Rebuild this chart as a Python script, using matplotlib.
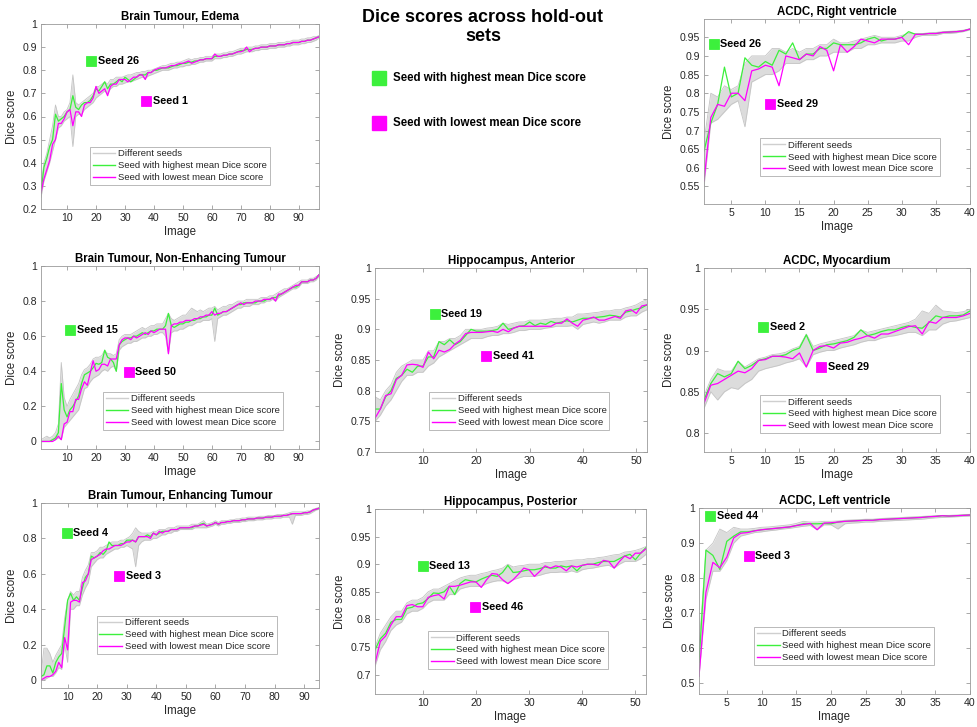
import numpy as np
import matplotlib
matplotlib.use("Agg")
import matplotlib.pyplot as plt
from matplotlib.lines import Line2D
from matplotlib.ticker import FuncFormatter

plt.rcParams['font.family'] = ['Liberation Sans', 'DejaVu Sans']

GREEN = '#3cf03c'
MAGENTA = '#ff00ff'
GRAY = '#c4c4c4'

# ---------------- data ----------------
# Brain Tumour, Edema (97 images)
edema_best = [.27, .38, .42, .47, .50, .61, .58, .59, .60, .62,
              .63, .69, .64, .63, .65, .66, .66, .67, .69, .72,
              .71, .73, .75, .72, .74, .74, .75, .76, .75, .77,
              .76, .75, .76, .77, .78, .78, .78, .79, .79, .80,
              .80, .805, .81, .81, .81, .815, .82, .82, .825, .83,
              .83, .835, .835, .84, .84, .845, .845, .85, .85, .85,
              .86, .86, .86, .865, .865, .87, .87, .875, .88, .885,
              .885, .89, .89, .89, .895, .895, .90, .90, .90, .905,
              .905, .905, .91, .91, .91, .915, .915, .92, .92, .92,
              .925, .925, .93, .93, .935, .94, .945]
edema_worst = [.27, .33, .37, .41, .48, .50, .57, .57, .59, .62,
               .63, .56, .62, .62, .60, .65, .66, .66, .68, .73,
               .70, .71, .72, .69, .73, .74, .74, .76, .76, .76,
               .75, .76, .77, .77, .78, .78, .76, .79, .79, .80,
               .805, .81, .81, .81, .815, .82, .82, .825, .83, .83,
               .835, .84, .83, .835, .84, .845, .845, .85, .85, .85,
               .87, .86, .86, .865, .865, .87, .87, .875, .88, .88,
               .885, .90, .88, .89, .895, .895, .90, .90, .90, .905,
               .905, .905, .91, .91, .91, .915, .915, .92, .92, .92,
               .925, .925, .93, .93, .935, .94, .945]
edema_lo = [.25, .32, .36, .40, .45, .50, .55, .56, .58, .59,
            .60, .47, .60, .61, .61, .63, .64, .65, .66, .68,
            .69, .70, .71, .70, .72, .73, .73, .74, .74, .745,
            .75, .75, .755, .76, .765, .77, .765, .775, .78, .785,
            .79, .795, .80, .80, .80, .805, .81, .81, .815, .815,
            .82, .82, .825, .825, .83, .835, .835, .84, .84, .84,
            .85, .85, .85, .855, .855, .86, .86, .865, .87, .87,
            .875, .88, .88, .88, .885, .885, .89, .89, .89, .895,
            .895, .895, .90, .90, .90, .905, .905, .91, .91, .91,
            .915, .915, .92, .92, .925, .93, .94]
edema_hi = [.30, .40, .44, .50, .56, .65, .60, .60, .62, .63,
            .66, .78, .66, .65, .66, .67, .68, .69, .70, .73,
            .73, .74, .75, .74, .76, .76, .77, .77, .77, .775,
            .78, .78, .785, .79, .79, .795, .795, .80, .80, .805,
            .81, .815, .82, .82, .825, .83, .83, .835, .835, .84,
            .845, .85, .845, .85, .85, .855, .855, .86, .86, .86,
            .87, .87, .87, .875, .875, .88, .88, .885, .89, .895,
            .895, .90, .90, .90, .905, .905, .91, .91, .91, .915,
            .915, .915, .92, .92, .92, .925, .925, .93, .93, .93,
            .935, .935, .94, .94, .945, .945, .95]

# ACDC, Right ventricle (40 images)
rv_best = [.645, .72, .77, .87, .79, .80, .895, .875, .87, .885,
           .875, .915, .905, .935, .89, .905, .905, .92, .92, .935,
           .93, .93, .93, .935, .945, .95, .94, .945, .945, .95,
           .965, .958, .958, .96, .96, .963, .964, .965, .967, .972]
rv_worst = [.565, .735, .77, .765, .80, .80, .78, .86, .865, .875,
            .87, .82, .90, .895, .89, .905, .90, .925, .915, .86,
            .93, .91, .925, .945, .94, .935, .945, .945, .945, .95,
            .93, .958, .958, .96, .96, .963, .964, .965, .967, .972]
rv_lo = [.55, .72, .73, .75, .77, .78, .71, .83, .84, .85,
         .85, .86, .88, .88, .88, .89, .89, .90, .90, .91,
         .91, .91, .92, .92, .93, .93, .935, .935, .935, .94,
         .94, .95, .955, .955, .955, .96, .96, .962, .965, .97]
rv_hi = [.67, .80, .79, .82, .81, .82, .88, .90, .90, .90,
         .92, .92, .91, .92, .91, .92, .92, .93, .93, .945,
         .935, .935, .94, .945, .95, .955, .95, .95, .95, .955,
         .96, .96, .96, .962, .963, .965, .966, .967, .969, .973]

# Brain Tumour, Non-Enhancing Tumour (97 images)
net_best = [0, 0, 0, 0, .01, .02, .05, .33, .18, .14,
            .18, .20, .23, .26, .33, .38, .39, .40, .42, .445,
            .44, .45, .52, .48, .47, .45, .40, .55, .57, .58,
            .59, .59, .60, .60, .61, .62, .61, .62, .63, .63,
            .64, .64, .64, .66, .73, .66, .65, .66, .67, .67,
            .68, .68, .69, .69, .70, .70, .71, .71, .72, .72,
            .76, .72, .73, .74, .74, .75, .76, .77, .78, .78,
            .79, .79, .79, .79, .79, .80, .80, .80, .81, .81,
            .82, .82, .83, .84, .85, .86, .87, .88, .88, .89,
            .91, .91, .91, .92, .92, .93, .95]
net_worst = [0, 0, 0, 0, 0, .01, .03, .01, .10, .11,
             .17, .17, .24, .24, .30, .34, .32, .39, .46, .40,
             .41, .44, .44, .43, .47, .47, .47, .55, .58, .59,
             .59, .58, .60, .59, .60, .61, .62, .61, .63, .62,
             .63, .64, .64, .64, .50, .66, .67, .67, .68, .68,
             .69, .69, .69, .70, .70, .71, .71, .72, .72, .74,
             .72, .73, .73, .74, .74, .75, .76, .77, .78, .79,
             .78, .79, .79, .79, .80, .80, .80, .81, .81, .81,
             .82, .80, .84, .84, .85, .86, .87, .88, .89, .89,
             .91, .91, .91, .92, .92, .93, .95]
net_lo = [0, 0, 0, 0, .01, .01, .02, .01, .08, .10,
          .12, .14, .16, .18, .24, .30, .31, .34, .36, .37,
          .38, .40, .41, .40, .42, .43, .40, .52, .54, .55,
          .56, .56, .57, .57, .58, .59, .59, .60, .60, .61,
          .61, .62, .62, .60, .50, .62, .63, .63, .64, .64,
          .65, .66, .66, .67, .68, .68, .69, .69, .69, .70,
          .57, .70, .71, .72, .72, .73, .74, .75, .76, .76,
          .77, .77, .77, .78, .78, .78, .79, .79, .80, .80,
          .81, .80, .82, .83, .84, .85, .86, .87, .87, .88,
          .90, .90, .90, .91, .91, .92, .94]
net_hi = [.01, .02, .03, .02, .03, .05, .10, .45, .25, .20,
          .24, .27, .30, .33, .38, .41, .42, .44, .47, .48,
          .48, .49, .52, .50, .50, .49, .50, .58, .60, .61,
          .61, .61, .62, .63, .64, .65, .64, .65, .66, .66,
          .67, .67, .67, .70, .73, .70, .69, .70, .71, .72,
          .72, .74, .76, .75, .74, .75, .74, .75, .76, .76,
          .77, .75, .76, .77, .77, .78, .78, .79, .80, .80,
          .80, .81, .81, .81, .81, .81, .82, .82, .82, .83,
          .83, .84, .85, .86, .87, .87, .88, .89, .90, .91,
          .92, .92, .92, .93, .93, .94, .95]

# Hippocampus, Anterior (52 images)
ha_best = [.77, .77, .79, .80, .82, .825, .835, .83, .84, .84,
           .855, .855, .88, .875, .883, .875, .88, .89, .90, .897,
           .897, .897, .898, .90, .91, .90, .902, .905, .906, .912,
           .906, .91, .908, .913, .91, .912, .914, .912, .915, .918,
           .918, .919, .92, .921, .923, .922, .92, .928, .93, .933,
           .935, .94]
ha_worst = [.755, .77, .792, .795, .818, .825, .842, .843, .842, .838,
            .863, .852, .866, .863, .867, .876, .882, .893, .895, .895,
            .895, .896, .897, .895, .90, .896, .902, .905, .905, .905,
            .905, .905, .905, .905, .91, .91, .917, .91, .905, .915,
            .917, .92, .915, .915, .918, .921, .918, .93, .932, .926,
            .938, .94]
ha_lo = [.75, .76, .775, .785, .80, .815, .825, .825, .83, .83,
         .84, .845, .855, .86, .865, .87, .875, .88, .885, .885,
         .885, .888, .89, .89, .893, .893, .895, .898, .898, .90,
         .90, .90, .902, .903, .905, .905, .905, .906, .90, .908,
         .91, .912, .91, .912, .915, .915, .915, .92, .922, .922,
         .928, .932]
ha_hi = [.79, .785, .80, .81, .83, .84, .845, .85, .85, .85,
         .865, .865, .88, .88, .885, .885, .89, .90, .90, .90,
         .90, .902, .903, .905, .91, .908, .91, .912, .912, .915,
         .915, .915, .916, .917, .918, .918, .92, .92, .925, .925,
         .926, .927, .928, .93, .93, .932, .932, .935, .937, .94,
         .945, .948]

# ACDC, Myocardium (40 images)
myo_best = [.84, .86, .872, .868, .872, .887, .878, .882, .888, .89,
            .893, .893, .895, .90, .903, .919, .90, .903, .907, .908,
            .91, .912, .916, .925, .918, .92, .923, .925, .925, .928,
            .93, .928, .927, .934, .942, .94, .942, .942, .943, .948]
myo_worst = [.836, .858, .86, .865, .87, .875, .873, .878, .888, .889,
             .893, .893, .892, .89, .897, .88, .90, .905, .906, .903,
             .909, .91, .913, .915, .918, .915, .92, .92, .923, .926,
             .929, .93, .92, .935, .933, .94, .94, .94, .942, .945]
myo_lo = [.83, .85, .84, .85, .855, .853, .86, .865, .875, .878,
          .88, .882, .885, .887, .89, .88, .895, .898, .90, .90,
          .903, .905, .907, .91, .912, .912, .915, .917, .918, .92,
          .922, .922, .918, .925, .925, .932, .935, .936, .938, .94]
myo_hi = [.845, .865, .878, .875, .875, .887, .88, .885, .89, .892,
          .895, .896, .898, .902, .905, .92, .905, .908, .91, .912,
          .914, .916, .918, .925, .922, .924, .926, .928, .93, .932,
          .934, .938, .948, .945, .955, .948, .947, .946, .947, .95]

# Brain Tumour, Enhancing Tumour (95 images)
et_best = [.02, .03, .08, .08, .04, .10, .13, .15, .30, .45,
           .49, .45, .47, .45, .52, .58, .60, .70, .69, .70,
           .72, .71, .73, .78, .76, .76, .76, .77, .77, .79,
           .79, .79, .78, .81, .81, .81, .82, .81, .83, .82,
           .83, .84, .84, .84, .85, .85, .85, .86, .86, .86,
           .86, .86, .87, .87, .88, .885, .87, .875, .88, .89,
           .88, .89, .89, .895, .895, .90, .90, .90, .905, .905,
           .91, .91, .91, .915, .915, .915, .92, .92, .92, .925,
           .925, .925, .93, .93, .935, .94, .94, .94, .94, .945,
           .945, .95, .96, .965, .97]
et_worst = [0, .01, .02, .02, .03, .05, .10, .07, .24, .17,
            .44, .45, .45, .44, .55, .56, .60, .68, .69, .70,
            .71, .73, .74, .74, .75, .76, .76, .76, .77, .78,
            .78, .79, .78, .81, .81, .81, .81, .80, .83, .82,
            .84, .83, .84, .84, .85, .85, .85, .86, .86, .86,
            .86, .865, .87, .87, .875, .88, .87, .875, .88, .89,
            .88, .89, .89, .895, .895, .90, .90, .90, .905, .905,
            .91, .91, .91, .915, .915, .915, .92, .92, .92, .925,
            .925, .925, .93, .93, .935, .94, .94, .94, .94, .945,
            .945, .95, .96, .965, .97]
et_lo = [0, 0, .01, .02, .02, .04, .07, .06, .20, .10,
         .40, .40, .42, .42, .48, .52, .55, .64, .66, .68,
         .69, .69, .71, .72, .73, .74, .74, .75, .75, .76,
         .75, .74, .64, .76, .78, .79, .79, .79, .80, .80,
         .81, .82, .82, .83, .83, .84, .84, .85, .85, .85,
         .85, .85, .86, .86, .86, .86, .86, .865, .87, .88,
         .87, .88, .88, .885, .885, .89, .89, .89, .895, .895,
         .90, .90, .90, .905, .905, .905, .91, .91, .91, .915,
         .915, .915, .92, .92, .92, .88, .93, .93, .93, .935,
         .935, .94, .95, .96, .965]
et_hi = [.03, .18, .18, .15, .10, .14, .17, .20, .35, .45,
         .50, .48, .50, .50, .58, .62, .65, .72, .72, .73,
         .75, .75, .76, .77, .78, .78, .78, .79, .79, .80,
         .81, .83, .86, .84, .83, .83, .83, .83, .84, .84,
         .85, .85, .85, .86, .86, .86, .87, .87, .87, .87,
         .87, .88, .88, .88, .89, .90, .88, .885, .89, .90,
         .89, .90, .90, .90, .905, .905, .91, .91, .915, .915,
         .92, .92, .92, .92, .925, .925, .925, .93, .93, .93,
         .935, .935, .935, .94, .945, .95, .95, .95, .95, .95,
         .955, .955, .965, .97, .975]

# Hippocampus, Posterior (52 images)
hp_best = [.745, .765, .775, .795, .80, .80, .82, .822, .828, .83,
           .838, .848, .847, .85, .86, .845, .865, .872, .87, .868,
           .873, .877, .88, .878, .885, .898, .885, .886, .888, .89,
           .89, .892, .895, .893, .893, .897, .895, .897, .888, .898,
           .90, .90, .903, .905, .905, .905, .91, .915, .918, .908,
           .92, .93]
hp_worst = [.72, .76, .77, .79, .805, .805, .825, .827, .823, .823,
            .84, .843, .845, .837, .86, .86, .862, .865, .868, .868,
            .858, .872, .883, .882, .872, .865, .872, .882, .893, .89,
            .878, .887, .897, .893, .897, .895, .888, .897, .895, .898,
            .90, .90, .898, .907, .905, .893, .905, .915, .91, .92,
            .92, .928]
hp_lo = [.715, .745, .76, .78, .79, .795, .81, .815, .815, .82,
         .83, .835, .835, .835, .845, .845, .855, .858, .86, .86,
         .86, .865, .868, .87, .87, .865, .872, .875, .878, .878,
         .878, .88, .883, .885, .885, .886, .885, .888, .885, .89,
         .892, .893, .895, .897, .898, .893, .90, .905, .905, .905,
         .91, .918]
hp_hi = [.75, .775, .79, .805, .815, .815, .83, .835, .835, .84,
         .85, .855, .855, .86, .865, .87, .875, .878, .88, .88,
         .883, .885, .888, .89, .893, .90, .895, .897, .898, .90,
         .90, .90, .903, .903, .905, .905, .906, .907, .908, .908,
         .91, .91, .912, .913, .915, .917, .918, .922, .923, .925,
         .928, .932]

# ACDC, Left ventricle (40 images)
lv_best = [.56, .88, .865, .825, .905, .92, .932, .932, .935, .938,
           .94, .942, .944, .946, .95, .955, .955, .955, .956, .955,
           .96, .962, .963, .964, .965, .965, .967, .968, .969, .97,
           .971, .972, .973, .975, .976, .978, .977, .978, .979, .98]
lv_worst = [.52, .76, .845, .83, .86, .915, .928, .93, .935, .938,
            .94, .942, .944, .946, .95, .953, .956, .938, .957, .958,
            .96, .962, .963, .964, .965, .965, .967, .968, .969, .97,
            .971, .972, .973, .975, .976, .978, .977, .978, .979, .98]
lv_lo = [.52, .74, .82, .82, .85, .90, .92, .925, .93, .932,
         .935, .937, .94, .942, .945, .948, .95, .938, .952, .952,
         .94, .955, .957, .958, .96, .96, .962, .963, .964, .965,
         .966, .967, .968, .97, .972, .973, .974, .975, .976, .977]
lv_hi = [.60, .88, .90, .94, .93, .945, .94, .94, .942, .945,
         .946, .948, .95, .952, .956, .962, .96, .96, .962, .962,
         .963, .965, .966, .967, .968, .968, .97, .971, .972, .973,
         .974, .975, .976, .977, .978, .979, .979, .98, .981, .982]

titles = ['Brain Tumour, Edema', 'ACDC, Right ventricle',
          'Brain Tumour, Non-Enhancing Tumour', 'Hippocampus, Anterior', 'ACDC, Myocardium',
          'Brain Tumour, Enhancing Tumour', 'Hippocampus, Posterior', 'ACDC, Left ventricle']
best_seed = [26, 26, 15, 19, 2, 4, 13, 44]
worst_seed = [1, 29, 50, 41, 29, 3, 46, 3]

legend_labels = ['Different seeds', 'Seed with highest mean Dice score',
                 'Seed with lowest mean Dice score']


def fmt(v, _):
    return f'{v:g}'


def draw_panel(rect, title, lo, hi, best, worst, ylim, yticks, xticks,
               bseed, wseed, bpos, wpos, leg_pos):
    ax = fig.add_axes(rect)
    x = np.arange(1, len(best) + 1)
    ax.fill_between(x, lo, hi, color='#dcdcdc', lw=0)
    ax.plot(x, lo, color=GRAY, lw=0.6)
    ax.plot(x, hi, color=GRAY, lw=0.6)
    ax.plot(x, best, color=GREEN, lw=0.9)
    ax.plot(x, worst, color=MAGENTA, lw=0.9)

    ax.set_xlim(1, len(best))
    ax.set_ylim(*ylim)
    ax.set_xticks(xticks)
    ax.set_yticks(yticks)
    ax.yaxis.set_major_formatter(FuncFormatter(fmt))
    ax.tick_params(direction='in', length=3, width=0.6, top=True, right=True,
                   labelsize=7.6, colors='#9a9a9a', labelcolor='#262626', pad=3)
    for s in ax.spines.values():
        s.set_color('#9a9a9a')
        s.set_linewidth(0.6)
    ax.set_title(title, fontsize=8.3, fontweight='bold', pad=3)
    ax.set_xlabel('Image', fontsize=8.3, color='#262626', labelpad=2)
    ax.set_ylabel('Dice score', fontsize=8.3, color='#262626', labelpad=3)

    for seed, pos, col in [(bseed, bpos, GREEN), (wseed, wpos, MAGENTA)]:
        ax.plot(pos[0], pos[1], 's', ms=7, mfc=col, mec=col, mew=0.6)
        ax.annotate(f'Seed {seed}', pos, xytext=(4.6, 0), textcoords='offset points',
                    ha='left', va='center', fontsize=7.8, fontweight='bold')

    handles = [Line2D([], [], color='#cfcfcf', lw=1),
               Line2D([], [], color=GREEN, lw=1),
               Line2D([], [], color=MAGENTA, lw=1)]
    leg = ax.legend(handles, legend_labels, loc='lower left', bbox_to_anchor=leg_pos,
                    fontsize=6.8, frameon=True, fancybox=False, borderpad=0.3,
                    labelspacing=0.3, handlelength=2.4, handletextpad=0.3,
                    borderaxespad=0)
    leg.get_frame().set_edgecolor('#9a9a9a')
    leg.get_frame().set_linewidth(0.6)
    for t in leg.get_texts():
        t.set_color('#262626')
    return ax


fig = plt.figure(figsize=(9.78, 7.27), dpi=100)

W, H = 978, 727


def rect(l, t, r, b):
    return [l / W, 1 - b / H, (r - l) / W, (b - t) / H]


t_big = np.arange(10, 100, 10)
t_hip = np.arange(10, 60, 10)
t_acdc = np.arange(5, 45, 5)

draw_panel(rect(41, 24, 319, 209), titles[0], edema_lo, edema_hi, edema_best, edema_worst,
           (0.2, 1), np.arange(0.2, 1.01, 0.1), t_big, best_seed[0], worst_seed[0],
           (18.4, 0.842), (37.3, 0.665), (0.176, 0.13))
draw_panel(rect(704, 19, 970, 204), titles[1], rv_lo, rv_hi, rv_best, rv_worst,
           (0.503, 0.999), np.arange(0.55, 0.96, 0.05), t_acdc, best_seed[1], worst_seed[1],
           (2.4, 0.932), (10.7, 0.772), (0.21, 0.15))
draw_panel(rect(41, 266, 319, 449), titles[2], net_lo, net_hi, net_best, net_worst,
           (-0.043, 1), np.arange(0, 1.01, 0.2), t_big, best_seed[2], worst_seed[2],
           (11.1, 0.637), (31.3, 0.397), (0.223, 0.104))
draw_panel(rect(375, 268, 647, 452), titles[3], ha_lo, ha_hi, ha_best, ha_worst,
           (0.7, 1), np.arange(0.7, 1.001, 0.05), t_hip, best_seed[3], worst_seed[3],
           (12.25, 0.925), (21.9, 0.857), (0.2, 0.12))
draw_panel(rect(704, 268, 970, 452), titles[4], myo_lo, myo_hi, myo_best, myo_worst,
           (0.777, 1), np.arange(0.8, 1.001, 0.05), t_acdc, best_seed[4], worst_seed[4],
           (9.7, 0.928), (18.2, 0.8795), (0.21, 0.103))
draw_panel(rect(41, 503, 319, 688), titles[5], et_lo, et_hi, et_best, et_worst,
           (-0.045, 1), np.arange(0, 1.01, 0.2), t_big, best_seed[5], worst_seed[5],
           (9.8, 0.828), (27.5, 0.587), (0.2, 0.184))
draw_panel(rect(375, 509, 646, 694), titles[6], hp_lo, hp_hi, hp_best, hp_worst,
           (0.665, 1), np.arange(0.7, 1.001, 0.05), t_hip, best_seed[6], worst_seed[6],
           (10.0, 0.897), (19.9, 0.823), (0.196, 0.135))
draw_panel(rect(699, 508, 970, 694), titles[7], lv_lo, lv_hi, lv_best, lv_worst,
           (0.47, 1), np.arange(0.5, 1.01, 0.1), t_acdc, best_seed[7], worst_seed[7],
           (2.6, 0.976), (8.2, 0.864), (0.203, 0.156))

# overall title and colour key
fig.text(483 / W, 1 - 9 / H, 'Dice scores across hold-out\nsets', ha='center', va='top',
         fontsize=12.9, fontweight='bold', linespacing=1.15)
for yy, col, txt in [(78, GREEN, 'Seed with highest mean Dice score'),
                     (123, MAGENTA, 'Seed with lowest mean Dice score')]:
    fig.add_artist(Line2D([379.5 / W], [1 - yy / H], marker='s', ms=10.5, mfc=col,
                          mec=col, ls='none'))
    fig.text(393 / W, 1 - yy / H, txt, ha='left', va='center', fontsize=8.3,
             fontweight='bold')

fig.savefig('out.png', dpi=100)
